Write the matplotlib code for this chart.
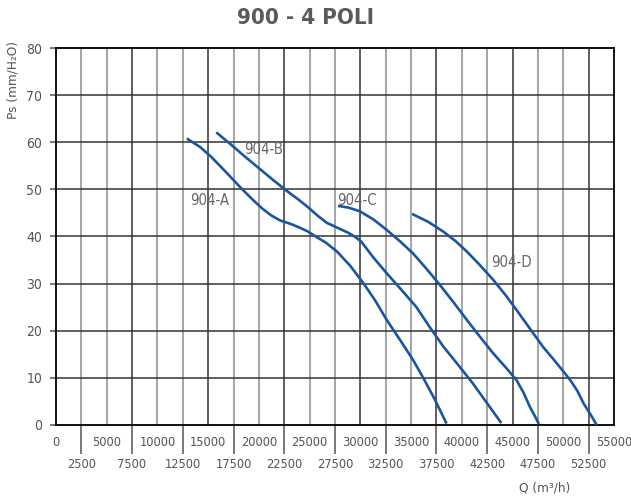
import matplotlib.pyplot as plt
from matplotlib import font_manager
import numpy as np

# Curve data (Q in m3/h, Ps in mm H2O)
a_q = [12900, 14200, 15300, 16700, 18100, 19300, 20300, 21200, 22100, 23100, 24000, 24800, 25600, 26600, 27700, 29000, 30300, 31500, 32600, 33900, 35200, 36200, 37200, 38500]
a_p = [60.8, 59.0, 56.9, 53.8, 50.6, 48.0, 46.0, 44.5, 43.4, 42.7, 41.9, 41.1, 40.0, 38.7, 36.8, 33.8, 30.1, 26.3, 22.3, 18.1, 13.8, 10.0, 6.0, 0.3]

b_q = [15800, 17200, 18600, 20000, 21400, 22800, 23800, 24800, 25800, 26700, 27400, 28000, 28800, 29500, 30100, 31300, 32600, 34000, 35500, 36800, 38200, 39700, 41100, 42500, 43900]
b_p = [62.1, 59.6, 57.0, 54.5, 52.0, 49.6, 48.0, 46.3, 44.4, 42.9, 42.2, 41.6, 40.8, 39.9, 38.9, 35.5, 32.2, 28.8, 25.1, 20.9, 16.6, 12.6, 8.8, 4.6, 0.4]

c_q = [27800, 28900, 30000, 31300, 32600, 33900, 35200, 36500, 37850, 39200, 40500, 41800, 43100, 44300, 45400, 46100, 46700, 47200, 47600]
c_p = [46.5, 46.1, 45.3, 43.6, 41.4, 39.0, 36.4, 33.2, 29.7, 26.0, 22.3, 18.7, 15.2, 12.3, 9.5, 6.8, 3.9, 1.9, 0.2]

d_q = [35100, 36700, 38200, 39400, 40500, 41800, 43100, 44300, 45400, 46700, 48000, 49400, 50700, 51400, 52000, 52700, 53300]
d_p = [44.8, 43.1, 41.0, 39.0, 36.8, 33.9, 30.8, 27.6, 24.4, 20.5, 16.6, 13.0, 9.5, 7.2, 4.6, 2.2, 0.0]

curve_names = ["904-A", "904-B", "904-C", "904-D"]
label_pos = [(13200, 47.6), (18500, 58.4), (27700, 47.6), (42900, 34.4)]

major_ticks = list(range(0, 55001, 5000))
minor_ticks = list(range(2500, 55000, 5000))
y_ticks = list(range(0, 81, 10))

blue = "#1a55a0"
txt = "#555555"

# pick a narrow font if one is installed
fp = {"family": "DejaVu Sans"}
for fam, st in [("Liberation Sans Narrow", "normal"), ("DejaVu Sans", "condensed")]:
    try:
        f = font_manager.findfont(font_manager.FontProperties(family=fam, stretch=st), fallback_to_default=False)
        if "Narrow" in f or "Condensed" in f:
            fp = {"family": fam, "stretch": st}
            break
    except Exception:
        pass
narrow = fp["stretch"] if "stretch" in fp else None
sz = 9.2 if narrow else 8.2

fig = plt.figure(figsize=(6.31, 4.97), dpi=100)
ax = fig.add_axes([0.0887, 0.1449, 0.8843, 0.7585])

# grid
for i, q in enumerate(range(2500, 55000, 2500)):
    col = "#333333" if (i + 1) % 3 == 0 else "#8c8c8c"
    ax.axvline(q, color=col, lw=1.1, zorder=1)
for p in range(10, 80, 10):
    ax.axhline(p, color="#333333", lw=1.1, zorder=1)

# curves
for qs, ps in [(a_q, a_p), (b_q, b_p), (c_q, c_p), (d_q, d_p)]:
    ax.plot(qs, ps, color=blue, lw=1.9, zorder=3, solid_capstyle="butt", solid_joinstyle="round")

for name, (x, y) in zip(curve_names, label_pos):
    ax.text(x, y, name, color="#666666", fontsize=sz + 1.5, va="center", ha="left", zorder=4, **fp)

ax.set_xlim(0, 55000)
ax.set_ylim(0, 80)

for s in ax.spines.values():
    s.set_color("#111111")
    s.set_linewidth(1.4)

ax.set_xticks(major_ticks)
ax.set_xticklabels([str(v) for v in major_ticks], fontsize=sz, color=txt, **fp)
ax.set_xticks(minor_ticks, minor=True)
ax.set_xticklabels([str(v) for v in minor_ticks], minor=True, fontsize=sz, color=txt, **fp)
ax.tick_params(axis="x", which="major", length=0, pad=8)
ax.tick_params(axis="x", which="minor", length=21, width=1.1, color="#555555", pad=3)

ax.set_yticks(y_ticks)
ax.set_yticklabels([str(v) for v in y_ticks], fontsize=sz + 0.8, color=txt, **fp)
ax.tick_params(axis="y", length=4, width=1.1, color="#555555", pad=6)

fig.text(0.484, 0.963, "900 - 4 POLI", ha="center", va="center", fontsize=16,
         fontweight="bold", color="#5a5a5a", **fp)
fig.text(0.02, 0.84, "Ps (mm/H\u2082O)", rotation=90, ha="center", va="center",
         fontsize=sz + 0.5, color=txt, **fp)
fig.text(0.864, 0.018, "Q (m\u00b3/h)", ha="center", va="center", fontsize=sz + 0.5,
         color=txt, **fp)

fig.savefig("out.png", dpi=100)
